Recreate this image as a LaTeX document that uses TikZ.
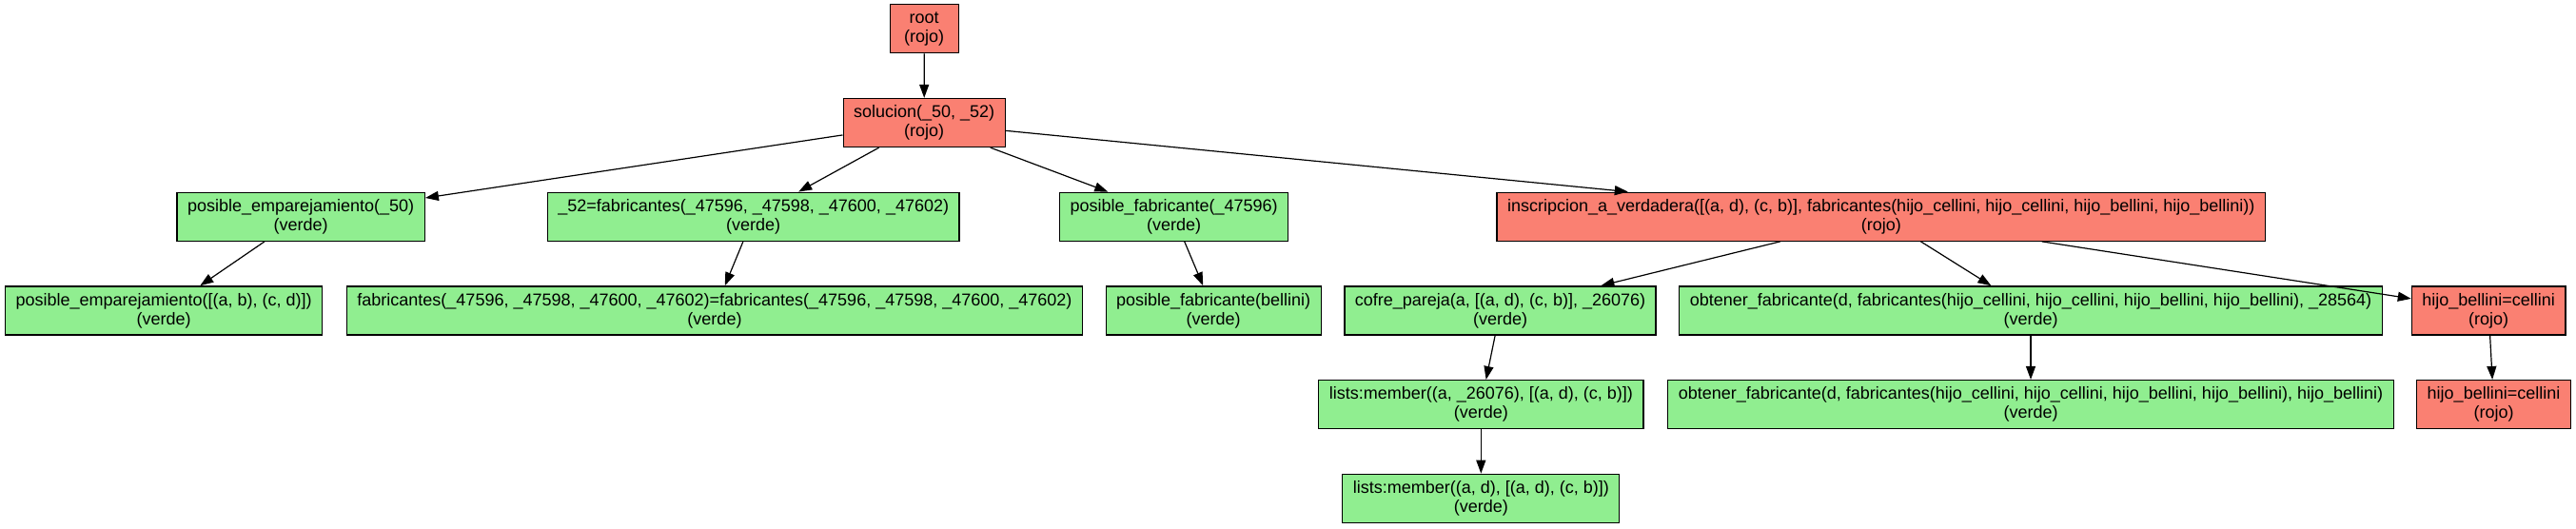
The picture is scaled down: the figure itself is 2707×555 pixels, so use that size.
\documentclass[tikz,border=0pt]{standalone}
\usepackage{fontspec}
\setmainfont{Liberation Sans}
\usetikzlibrary{arrows.meta}
\definecolor{salmon}{HTML}{FA8072}
\definecolor{lightgreen}{HTML}{90EE90}

\begin{document}
\begin{tikzpicture}[
      x=1pt, y=1pt,
      goal/.style={draw, line width=1.3pt, rectangle, align=center,
        minimum width=72pt, minimum height=51pt, inner xsep=11pt, inner ysep=2pt,
        font=\fontsize{18}{20}\selectfont},
      rojo/.style={goal, fill=salmon},
      verde/.style={goal, fill=lightgreen},
      level distance=98.7pt,
      level 2/.style={sibling distance=550pt},
      level 3/.style={sibling distance=520pt},
      edge from parent/.style={draw, line width=1.2pt, -{Triangle[length=14pt,width=10pt]}}
    ]
    \useasboundingbox (0,0) rectangle (2707,-555);
    \node (root) [rojo] at (971.2,-30.3) {root\\(rojo)}
    child {node (0) [rojo] {solucion(\_50, \_52)\\(rojo)}
      child[xshift=170pt] {node (00) [verde] {posible\_emparejamiento(\_50)\\(verde)}
        child[xshift=-144pt] {node (000) [verde] {posible\_emparejamiento([(a, b), (c, d)])\\(verde)}}}
      child[xshift=95.5pt] {node (01) [verde] {\_52=fabricantes(\_47596, \_47598, \_47600, \_47602)\\(verde)}
        child[xshift=-40.7pt] {node (010) [verde] {fabricantes(\_47596, \_47598, \_47600, \_47602)=fabricantes(\_47596, \_47598, \_47600, \_47602)\\(verde)}}}
      child[xshift=-12.5pt] {node (02) [verde] {posible\_fabricante(\_47596)\\(verde)}
        child[xshift=41.5pt] {node (020) [verde] {posible\_fabricante(bellini)\\(verde)}}}
      child[xshift=180.6pt] {node (03) [rojo] {inscripcion\_a\_verdadera([(a, d), (c, b)], fabricantes(hijo\_cellini, hijo\_cellini, hijo\_bellini, hijo\_bellini))\\(rojo)}
        child[xshift=119.7pt] {node (030) [verde] {cofre\_pareja(a, [(a, d), (c, b)], \_26076)\\(verde)}
          child[xshift=-20.2pt] {node (0300) [verde] {lists:member((a, \_26076), [(a, d), (c, b)])\\(verde)}
            child {node (03000) [verde] {lists:member((a, d), [(a, d), (c, b)])\\(verde)}}}}
        child[xshift=157.2pt] {node (031) [verde] {obtener\_fabricante(d, fabricantes(hijo\_cellini, hijo\_cellini, hijo\_bellini, hijo\_bellini), \_28564)\\(verde)}
          child {node (0310) [verde] {obtener\_fabricante(d, fabricantes(hijo\_cellini, hijo\_cellini, hijo\_bellini, hijo\_bellini), hijo\_bellini)\\(verde)}}}
        child[xshift=118.4pt] {node (032) [rojo] {hijo\_bellini=cellini\\(rojo)}
          child[xshift=5.3pt] {node (0320) [rojo] {hijo\_bellini=cellini\\(rojo)}}}}};
  \end{tikzpicture}
\end{document}
